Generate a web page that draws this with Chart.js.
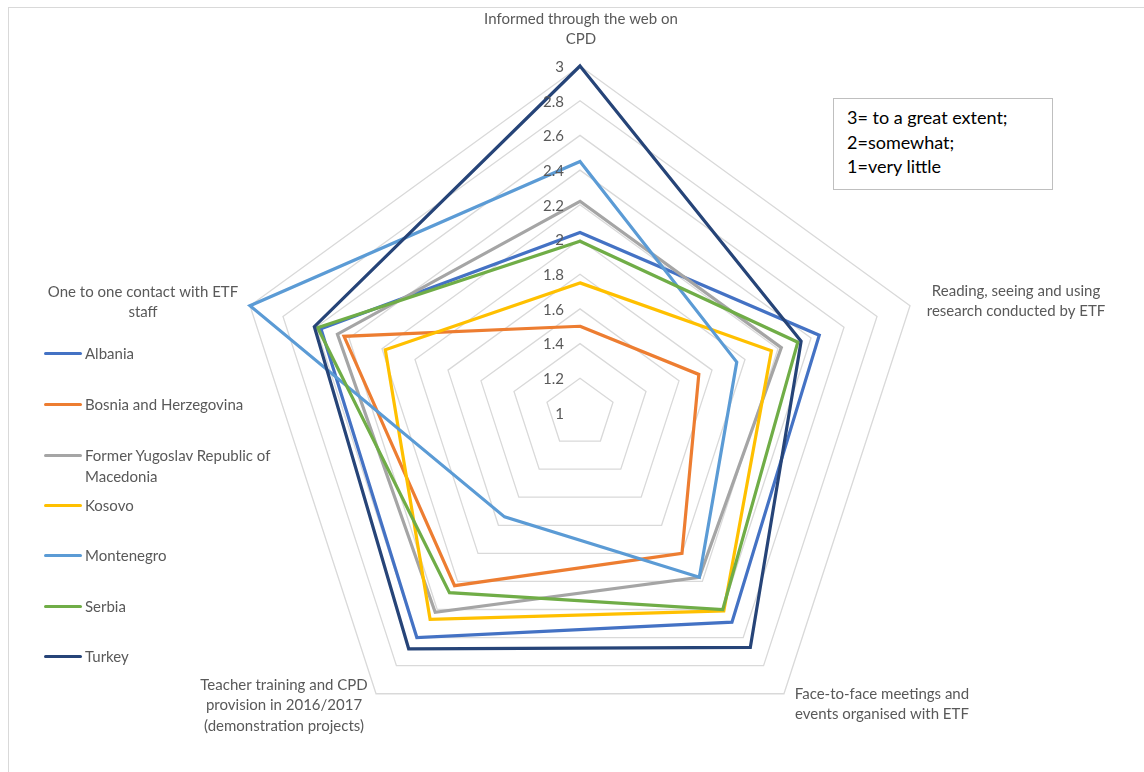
<!DOCTYPE html>
<html>
<head>
<meta charset="utf-8">
<script src="https://cdn.jsdelivr.net/npm/chart.js@4/dist/chart.umd.min.js"></script>
<style>
  html, body { margin: 0; padding: 0; background: #fff; }
  body { width: 1144px; height: 772px; position: relative; overflow: hidden; font-family: Lato, "Open Sans", sans-serif; }
  #frame { position: absolute; left: 8px; top: 7px; width: 1300px; height: 900px; border: 1.5px solid #d9d9d9; box-sizing: border-box; }
  #c { position: absolute; left: 0; top: 0; }
  #note { position: absolute; left: 833px; top: 98px; width: 220px; height: 92px; border: 1.5px solid #bfbfbf; box-sizing: border-box; background: #fff; padding: 6px 0 0 13px; font-size: 18px; line-height: 24.5px; color: #000; }
  .lg { position: absolute; left: 44px; font-size: 15px; color: #595959; line-height: 20.5px; }
  .lg .sw { position: absolute; left: 0; top: 9px; width: 38px; height: 3px; border-radius: 2px; }
  .lg .tx { position: absolute; left: 41px; top: 0; white-space: nowrap; }
</style>
</head>
<body>
<div id="frame"></div>
<canvas id="c" width="1144" height="772"></canvas>
<div id="note">3= to a great extent;<br>2=somewhat;<br>1=very little</div>
<div id="legend"></div>
<script>
// ---- data ----
const categories = [
  ["Informed through the web on", "CPD"],
  ["Reading, seeing and using", "research conducted by ETF"],
  ["Face-to-face meetings and", "events organised with ETF"],
  ["Teacher training and CPD", "provision in 2016/2017", "(demonstration projects)"],
  ["One to one contact with ETF", "staff"]
];
const seriesNames = ["Albania", "Bosnia and Herzegovina", "Former Yugoslav Republic of Macedonia", "Kosovo", "Montenegro", "Serbia", "Turkey"];
const albania    = [2.04, 2.45, 2.49, 2.60, 2.57];
const bosnia     = [1.50, 1.72, 2.00, 2.23, 2.43];
const fyrom      = [2.22, 2.22, 2.17, 2.42, 2.47];
const kosovo     = [1.75, 2.16, 2.41, 2.47, 2.18];
const montenegro = [2.45, 1.95, 2.17, 1.74, 3.00];
const serbia     = [1.99, 2.32, 2.40, 2.28, 2.59];
const turkey     = [3.00, 2.34, 2.67, 2.68, 2.61];
const tickValues = [1, 1.2, 1.4, 1.6, 1.8, 2, 2.2, 2.4, 2.6, 2.8, 3];
const tickLabels = ["1", "1.2", "1.4", "1.6", "1.8", "2", "2.2", "2.4", "2.6", "2.8", "3"];

// ---- styles ----
const seriesValues = [albania, bosnia, fyrom, kosovo, montenegro, serbia, turkey];
const colors = ["#4472C4", "#ED7D31", "#A5A5A5", "#FFC000", "#5B9BD5", "#70AD47", "#264478"];
const legendLabels = [["Albania"], ["Bosnia and Herzegovina"], ["Former Yugoslav Republic of", "Macedonia"], ["Kosovo"], ["Montenegro"], ["Serbia"], ["Turkey"]];
const legendTops = [343, 394, 445, 495, 545, 596, 646];
// label offsets from each axis end (dx, dy of first line centre)
const labelOffsets = [[1, -47], [106, -15], [98, 0], [-92, -9], [-107, -14]];
const textColor = "#595959";

// legend (HTML)
const lg = document.getElementById("legend");
seriesNames.forEach((n, i) => {
  const d = document.createElement("div");
  d.className = "lg";
  d.style.top = legendTops[i] + "px";
  d.innerHTML = '<div class="sw" style="background:' + colors[i] + '"></div><div class="tx">' + legendLabels[i].join("<br>") + '</div>';
  lg.appendChild(d);
});

const labelPlugin = {
  id: "excelLabels",
  afterDraw(chart) {
    const s = chart.scales.r;
    const ctx = chart.ctx;
    ctx.save();
    ctx.fillStyle = textColor;
    ctx.font = "15px Lato, 'Open Sans', sans-serif";
    // axis category labels
    ctx.textAlign = "center";
    ctx.textBaseline = "middle";
    categories.forEach((lines, i) => {
      const p = s.getPointPosition(i, s.drawingArea);
      const cx = p.x + labelOffsets[i][0];
      const cy = p.y + labelOffsets[i][1];
      lines.forEach((t, j) => ctx.fillText(t, cx, cy + j * 20.5));
    });
    // tick labels
    ctx.textAlign = "right";
    tickValues.forEach((v, i) => {
      const d = s.getDistanceFromCenterForValue(v);
      ctx.fillText(tickLabels[i], s.xCenter - 16, s.yCenter - d + 1);
    });
    ctx.restore();
  }
};

new Chart(document.getElementById("c"), {
  type: "radar",
  data: {
    labels: categories,
    datasets: seriesNames.map((n, i) => ({
      label: n,
      data: seriesValues[i],
      borderColor: colors[i],
      backgroundColor: "rgba(0,0,0,0)",
      borderWidth: 3.2,
      pointRadius: 0,
      pointHoverRadius: 0,
      fill: false,
      tension: 0,
      order: seriesNames.length - i
    }))
  },
  options: {
    responsive: false,
    animation: false,
    devicePixelRatio: 1,
    layout: { padding: { left: 233, top: 66, right: 217, bottom: 12 } },
    plugins: { legend: { display: false }, tooltip: { enabled: false } },
    elements: { line: { borderJoinStyle: "miter" } },
    scales: {
      r: {
        min: 1,
        max: 3,
        afterBuildTicks: (scale) => { scale.ticks = tickValues.map(v => ({ value: v })); },
        ticks: { display: false, stepSize: 0.2 },
        pointLabels: { display: false },
        angleLines: { display: false },
        grid: { color: "#d9d9d9", lineWidth: 1.3 }
      }
    }
  },
  plugins: [labelPlugin]
});
</script>
</body>
</html>
